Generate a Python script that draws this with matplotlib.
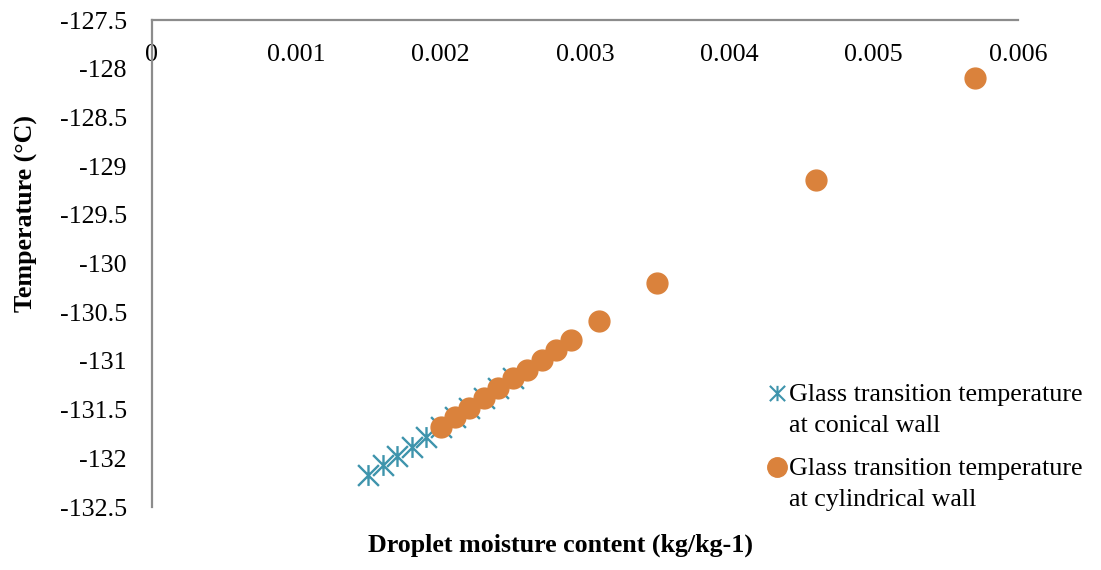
import matplotlib
matplotlib.use('Agg')
from matplotlib import pyplot as plt
from matplotlib.path import Path
from matplotlib.lines import Line2D

plt.rcParams['font.family'] = ['Liberation Serif', 'DejaVu Serif']

# glass transition temperature vs droplet moisture content
conical_x = [0.0015, 0.0016, 0.0017, 0.0018, 0.0019, 0.0020,
             0.0021, 0.0022, 0.0023, 0.0024, 0.0025]
conical_t = [-132.17, -132.07, -131.98, -131.88, -131.78, -131.68,
             -131.58, -131.48, -131.38, -131.28, -131.18]

cyl_x = [0.0020, 0.0021, 0.0022, 0.0023, 0.0024, 0.0025, 0.0026,
         0.0027, 0.0028, 0.0029, 0.0031, 0.0035, 0.0046, 0.0057]
cyl_t = [-131.68, -131.58, -131.48, -131.38, -131.28, -131.18, -131.09,
         -130.99, -130.89, -130.79, -130.59, -130.20, -129.14, -128.10]

x_ticks = [0, 0.001, 0.002, 0.003, 0.004, 0.005, 0.006]
x_labels = ['0', '0.001', '0.002', '0.003', '0.004', '0.005', '0.006']
y_ticks = [-132.5, -132, -131.5, -131, -130.5, -130, -129.5,
           -129, -128.5, -128, -127.5]

labels = ['Glass transition temperature\nat conical wall',
          'Glass transition temperature\nat cylindrical wall']

blue = '#3E94AC'
orange = '#DA823C'
grey = '#8C8C8C'
fs = 18.7

# star marker: an X with a vertical bar through it
star = Path([(0, -1), (0, 1), (-1, -1), (1, 1), (-1, 1), (1, -1)],
            [Path.MOVETO, Path.LINETO] * 3)

fig = plt.figure(figsize=(11.01, 5.70), dpi=100)
ax = fig.add_axes([0.138, 0.1105, 0.7866, 0.8544])

ax.plot(conical_x, conical_t, linestyle='none', marker=star,
        markersize=15, markeredgewidth=1.7, color=blue)
ax.plot(cyl_x, cyl_t, linestyle='none', marker='o', markersize=15,
        color=orange)

ax.set_xlim(0, 0.006)
ax.set_ylim(-132.5, -127.5)
ax.set_xticks(x_ticks)
ax.set_xticklabels(x_labels)
ax.set_yticks(y_ticks)
ax.set_yticklabels(['%g' % v for v in y_ticks])

ax.xaxis.tick_top()
ax.tick_params(axis='x', length=0, labelsize=fs, pad=-33)
ax.tick_params(axis='y', length=0, labelsize=fs, pad=18)

for side in ['right', 'bottom']:
    ax.spines[side].set_visible(False)
for side in ['left', 'top']:
    ax.spines[side].set_color(grey)
    ax.spines[side].set_linewidth(1.6)

fig.text(0.5095, 0.044, 'Droplet moisture content (kg/kg-1)',
         ha='center', va='center', fontsize=fs, fontweight='bold')
fig.text(0.024, 0.626, 'Temperature (°C)', ha='center', va='center',
         rotation=90, fontsize=fs, fontweight='bold')

# legend, marker next to the first line of each entry
W, H = 1101.0, 570.0
entries = [(393, star, blue, 11, 1.5), (467, 'o', orange, 14, 1)]
for (ypx, mk, col, ms, mew), lab in zip(entries, labels):
    fig.add_artist(Line2D([777 / W], [1 - ypx / H], transform=fig.transFigure,
                          linestyle='none', marker=mk, markersize=ms,
                          markeredgewidth=mew, color=col))
    fig.text(789 / W, 1 - (ypx - 9) / H, lab, ha='left', va='top',
             fontsize=fs, linespacing=1.55)

fig.savefig('out.png', dpi=100)
